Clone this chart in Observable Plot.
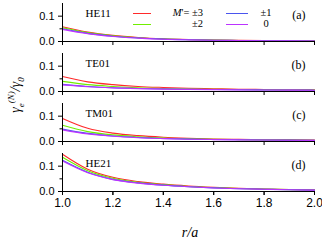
<!DOCTYPE html>
<html><head><meta charset="utf-8">
<script src="https://cdn.jsdelivr.net/npm/d3@7"></script>
<script src="https://cdn.jsdelivr.net/npm/@observablehq/plot@0.6"></script>
<style>
body{margin:0;background:#fff}
#wrap{position:relative;width:322px;height:243px;font-family:"Liberation Serif","Times New Roman",serif;color:#000}
.lg{position:absolute;font-size:10.5px;line-height:10px;height:10px;white-space:nowrap}
.sw{position:absolute;height:0;border-top:1.2px solid}
#ylab{position:absolute;left:16px;top:95px;transform:translate(-50%,-50%) rotate(-90deg);font-size:14px;font-style:italic;white-space:nowrap}
#xlab{position:absolute;left:190px;top:233px;transform:translate(-50%,-50%);font-size:14px;font-style:italic}
sub,sup{font-size:9px;line-height:0}
</style>
</head><body>
<div id="wrap"></div>
<script>
const rValues = [1.0, 1.1, 1.2, 1.3, 1.4, 1.5, 1.6, 1.7, 1.8, 1.9, 2.0];
const panels = ["HE11", "TE01", "TM01", "HE21"];
const panelTags = ["(a)", "(b)", "(c)", "(d)"];
const seriesNames = ["±3", "±2", "±1", "0"];
const seriesColors = ["#ff2a2a", "#70ee00", "#4a55ee", "#bb33ff"];
const xTicks = [1.0, 1.2, 1.4, 1.6, 1.8, 2.0];
const yTicks = [0.0, 0.1];
const yMinorTicks = [0.05];

const HE11 = [
  [0.058, 0.037, 0.024, 0.016, 0.011, 0.008, 0.006, 0.0045, 0.0035, 0.003, 0.0025],
  [0.054, 0.035, 0.023, 0.015, 0.010, 0.0075, 0.0055, 0.0042, 0.0033, 0.0027, 0.0022],
  [0.050, 0.032, 0.021, 0.014, 0.0095, 0.007, 0.005, 0.004, 0.003, 0.0025, 0.002],
  [0.048, 0.031, 0.020, 0.0135, 0.009, 0.0065, 0.0048, 0.0037, 0.0029, 0.0023, 0.0019]
];
const TE01 = [
  [0.059, 0.038, 0.027, 0.020, 0.016, 0.013, 0.011, 0.009, 0.008, 0.007, 0.0063],
  [0.040, 0.027, 0.020, 0.015, 0.012, 0.010, 0.0088, 0.0077, 0.0068, 0.0062, 0.0057],
  [0.028, 0.020, 0.015, 0.012, 0.010, 0.0087, 0.0077, 0.0068, 0.0062, 0.0057, 0.0052],
  [0.026, 0.019, 0.0145, 0.0115, 0.0095, 0.0083, 0.0073, 0.0065, 0.006, 0.0055, 0.005]
];
const TM01 = [
  [0.091, 0.052, 0.033, 0.023, 0.017, 0.013, 0.010, 0.0085, 0.0072, 0.0063, 0.0056],
  [0.064, 0.039, 0.026, 0.019, 0.014, 0.011, 0.0088, 0.0075, 0.0065, 0.0058, 0.0052],
  [0.049, 0.032, 0.022, 0.016, 0.012, 0.0095, 0.0078, 0.0067, 0.0059, 0.0053, 0.0048],
  [0.046, 0.030, 0.021, 0.015, 0.0115, 0.009, 0.0075, 0.0064, 0.0057, 0.0051, 0.0046]
];
const HE21 = [
  [0.147, 0.088, 0.056, 0.039, 0.029, 0.022, 0.017, 0.013, 0.010, 0.008, 0.0065],
  [0.135, 0.082, 0.052, 0.036, 0.027, 0.020, 0.0155, 0.012, 0.0095, 0.0075, 0.006],
  [0.123, 0.076, 0.048, 0.034, 0.025, 0.019, 0.0145, 0.011, 0.009, 0.007, 0.0055],
  [0.120, 0.074, 0.047, 0.033, 0.0245, 0.0185, 0.014, 0.011, 0.0088, 0.0068, 0.0053]
];

const panelSeries = [HE11, TE01, TM01, HE21];
const rows = [];
panels.forEach((p, pi) => {
  panelSeries[pi].forEach((vals, si) => {
    vals.forEach((v, i) => rows.push({panel: p, series: seriesNames[si], r: rValues[i], v}));
  });
});
const panelRows = panels.map((p, i) => ({panel: p, tag: panelTags[i]}));

const chart = Plot.plot({
  width: 322, height: 243,
  marginTop: 1, marginBottom: 50, marginLeft: 62, marginRight: 8,
  style: {fontFamily: "'Liberation Sans', Arial, sans-serif", fontSize: "11px", background: "#fff"},
  x: {domain: [1, 2]},
  y: {domain: [0, 0.15]},
  fy: {domain: panels, axis: null, paddingInner: 0.235, paddingOuter: 0},
  color: {domain: seriesNames, range: seriesColors},
  marks: [
    Plot.line(rows, {x: "r", y: "v", fy: "panel", z: "series", stroke: "series", strokeWidth: 1.1, curve: "monotone-x"}),
    Plot.ruleX([1], {stroke: "#000", strokeWidth: 1}),
    Plot.ruleY([0], {stroke: "#000", strokeWidth: 1}),
    Plot.axisY({ticks: yTicks, tickFormat: d3.format(".1f"), tickSize: 4, tickPadding: 4, label: null, fontSize: 11}),
    Plot.axisY({ticks: yMinorTicks, tickFormat: () => "", tickSize: 2.5, label: null}),
    Plot.axisX({facetAnchor: null, ticks: xTicks, tickFormat: () => "", tickSize: 4, label: null}),
    Plot.axisX({ticks: xTicks, tickFormat: d3.format(".1f"), tickSize: 4, tickPadding: 3, label: null, fontSize: 12}),
    Plot.text(panelRows, {fy: "panel", text: "panel", frameAnchor: "top-left", textAnchor: "start", dx: 23, dy: 6, fontFamily: "Liberation Serif", fontSize: 11}),
    Plot.text(panelRows, {fy: "panel", text: "tag", frameAnchor: "top-right", textAnchor: "end", dx: -9, dy: 7, fontFamily: "Liberation Serif", fontSize: 12})
  ]
});

const wrap = document.getElementById("wrap");
wrap.appendChild(chart);

// legend (inside panel a, top right)
const legendPos = [
  {line: [133, 151], y: 12.5, text: "<i>M</i>'= " + seriesNames[0], right: 119},
  {line: [133, 151], y: 24, text: seriesNames[1], right: 119},
  {line: [226, 248], y: 12.5, text: seriesNames[2], center: 266},
  {line: [226, 248], y: 24, text: seriesNames[3], center: 266}
];
legendPos.forEach((L, i) => {
  const sw = document.createElement("div");
  sw.className = "sw";
  sw.style.left = L.line[0] + "px";
  sw.style.width = (L.line[1] - L.line[0]) + "px";
  sw.style.top = L.y + "px";
  sw.style.borderColor = seriesColors[i];
  wrap.appendChild(sw);
  const t = document.createElement("div");
  t.className = "lg";
  t.innerHTML = L.text;
  t.style.top = (L.y - 5) + "px";
  if (L.right != null) t.style.right = L.right + "px";
  else { t.style.left = L.center + "px"; t.style.transform = "translateX(-50%)"; }
  wrap.appendChild(t);
});

const yl = document.createElement("div");
yl.id = "ylab";
yl.innerHTML = "γ<sub>e</sub><sup>(<i>N</i>)</sup>/γ<sub>0</sub>";
wrap.appendChild(yl);
const xl = document.createElement("div");
xl.id = "xlab";
xl.textContent = "r/a";
wrap.appendChild(xl);
</script>
</body></html>
